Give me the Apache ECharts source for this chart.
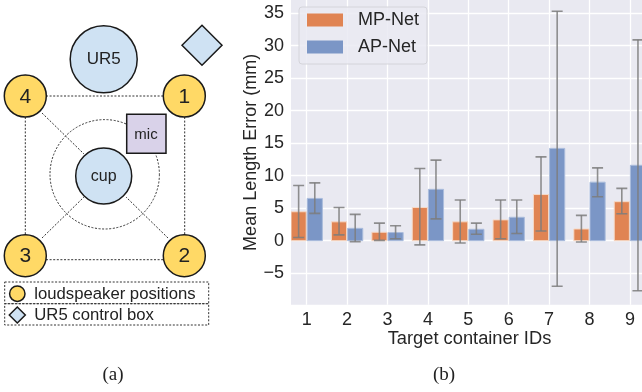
<!DOCTYPE html>
<html><head><meta charset="utf-8">
<style>html,body{margin:0;padding:0;background:#fff}#c{width:642px;height:392px}</style>
<script src="https://cdn.jsdelivr.net/npm/echarts@6/dist/echarts.min.js"></script>
</head><body><div id="c"></div>
<script>
const categories = [1,2,3,4,5,6,7,8,9];
const yTickValues = [-5,0,5,10,15,20,25,30,35];
const mpMean = [4.45,2.9,1.3,5.1,2.9,3.2,7.1,1.8,6.0];
const mpLow  = [0.5,0.9,0.05,-0.65,-0.35,0.3,1.5,-0.2,4.15];
const mpHigh = [8.5,5.1,2.7,11.1,6.25,6.25,12.9,3.9,8.05];
const apMean = [6.5,1.9,1.25,7.9,1.75,3.6,14.2,9.0,11.6];
const apLow  = [4.2,-0.15,0.3,3.35,1.0,1.1,-7.0,6.75,-7.7];
const apHigh = [8.9,4.05,2.3,12.4,2.7,6.25,35.3,11.2,30.9];
const ORANGE='#e08453', BLUE='#7b96c6', ORANGE_EDGE='#f6d9c6', BLUE_EDGE='#aabcdc', ERR='rgba(125,125,125,0.85)';
const SANS='"Liberation Sans",Arial,sans-serif', SERIF='"Liberation Serif",serif';

function barSeries(name, mean, low, high, offset, color, edge){
  return {
    name, type:'custom', clip:true, coordinateSystem:'cartesian2d',
    itemStyle:{color},
    encode:{x:0,y:1},
    data: categories.map((c,i)=>[c,mean[i],low[i],high[i]]),
    renderItem(params, api){
      const x=api.value(0)+offset, w=api.size([0.4,0])[0];
      const top=api.coord([x,api.value(1)]), base=api.coord([x,0]);
      const lo=api.coord([x,api.value(2)]), hi=api.coord([x,api.value(3)]);
      const cap=5.5, errStyle={stroke:ERR,lineWidth:1.6,fill:null};
      return {type:'group',children:[
        {type:'rect',shape:{x:top[0]-w/2+0.5,y:top[1],width:w-1,height:base[1]-top[1]},style:{fill:color,stroke:edge,lineWidth:1}},
        {type:'line',shape:{x1:hi[0],y1:hi[1],x2:lo[0],y2:lo[1]},style:errStyle},
        {type:'line',shape:{x1:hi[0]-cap,y1:hi[1],x2:hi[0]+cap,y2:hi[1]},style:errStyle},
        {type:'line',shape:{x1:lo[0]-cap,y1:lo[1],x2:lo[0]+cap,y2:lo[1]},style:errStyle}
      ]};
    }
  };
}

const dash={stroke:'#333',lineWidth:1,lineDash:[2,1.6],fill:null};
const solid=(fill)=>({fill,stroke:'#1a1a1a',lineWidth:1.5});
const seg=(x1,y1,x2,y2)=>({type:'line',shape:{x1,y1,x2,y2},style:dash,z:1});
const circ=(cx,cy,r,fill)=>({type:'circle',shape:{cx,cy,r},style:solid(fill),z:3});
const txt=(x,y,text,size,extra)=>({type:'text',x,y,z:5,style:Object.assign({text,fontSize:size,fontFamily:SANS,fill:'#222',align:'center',verticalAlign:'middle'},extra||{})});
const diamond=(cx,cy,h)=>({type:'polygon',shape:{points:[[cx-h,cy],[cx,cy-h],[cx+h,cy],[cx,cy+h]]},style:solid('#cfe2f3'),z:3});
const YEL='#ffd966', LB='#cfe2f3';
const diagram=[
  seg(46,96,164,96),seg(184.7,117,184.7,235),seg(25.3,117,25.3,235),seg(46,259.7,164,259.7),
  seg(42,113,84,154),seg(42,238,84,197),seg(168,238,126,197),seg(126,153,132,149),
  {type:'circle',shape:{cx:104.7,cy:174.3,r:54.7},style:dash,z:1},
  circ(103.7,59.3,33.5,LB),diamond(202,45.3,20),
  circ(25.3,96,21,YEL),circ(184.3,96,21,YEL),circ(25.3,255.7,21,YEL),circ(184.3,255.7,21,YEL),
  circ(103.7,176,28,LB),
  {type:'rect',shape:{x:126.7,y:114.3,width:39.3,height:39},style:solid('#d9d2e9'),z:3},
  txt(103.7,59.5,'UR5',17),txt(146,135,'mic',15),txt(103.7,177,'cup',16),
  txt(25.3,97,'4',21),txt(184.3,97,'1',21),txt(25.3,256.5,'3',21),txt(184.3,256.5,'2',21),
  {type:'rect',shape:{x:4.7,y:282,width:204,height:21.7},style:dash,z:1},
  {type:'rect',shape:{x:4.7,y:303.7,width:204,height:21.3},style:dash,z:1},
  circ(17.3,293.7,7.7,YEL),diamond(17.3,315,8),
  txt(34.3,294,'loudspeaker positions',16.7,{align:'left'}),
  txt(34.3,315.5,'UR5 control box',16.7,{align:'left'}),
  txt(113,375,'(a)',19,{fontFamily:SERIF}),txt(444,375,'(b)',19,{fontFamily:SERIF})
];

const chart=echarts.init(document.getElementById('c'),null,{renderer:'canvas'});
chart.setOption({
  animation:false,
  backgroundColor:'#fff',
  textStyle:{fontFamily:SANS},
  grid:{left:291,top:0,width:351,height:304.7,show:true,backgroundColor:'#e9e9f1',borderWidth:0,containLabel:false},
  legend:{
    left:299,top:7,orient:'vertical',padding:[4,8,8,8],itemWidth:36,itemHeight:13,itemGap:9,icon:'rect',
    backgroundColor:'rgba(234,234,242,0.85)',borderColor:'#d4d4da',borderWidth:1,borderRadius:3,
    textStyle:{fontSize:18,color:'#262626',fontFamily:SANS,padding:[0,0,0,10]},
    data:['MP-Net','AP-Net'],itemStyle:{borderWidth:0}
  },
  xAxis:{
    type:'value',min:0.611,max:9.3,
    name:'Target container IDs',nameLocation:'middle',nameGap:25,nameMoveOverlap:false,
    nameTextStyle:{fontSize:18.3,color:'#262626',fontFamily:SANS,padding:[0,0,0,6]},
    axisLine:{show:false},axisTick:{show:false,customValues:categories},
    axisLabel:{fontSize:18,color:'#262626',margin:6,customValues:categories},
    splitLine:{show:true,customValues:categories,lineStyle:{color:'#fff',width:1.3}}
  },
  yAxis:{
    type:'value',min:-9.85,max:37.03,
    name:'Mean Length Error (mm)',nameLocation:'middle',nameGap:31,nameRotate:90,nameMoveOverlap:false,
    nameTextStyle:{fontSize:18,color:'#262626',fontFamily:SANS},
    axisLine:{show:false},axisTick:{show:false,customValues:yTickValues},
    axisLabel:{fontSize:18,color:'#262626',margin:7,customValues:yTickValues,
      formatter:v=>String(v).replace('-','\u2212')},
    splitLine:{show:true,customValues:yTickValues,lineStyle:{color:'#fff',width:1.3}}
  },
  series:[
    barSeries('MP-Net',mpMean,mpLow,mpHigh,-0.2,ORANGE,ORANGE_EDGE),
    barSeries('AP-Net',apMean,apLow,apHigh,0.2,BLUE,BLUE_EDGE)
  ],
  graphic:{elements:diagram}
});
</script></body></html>
